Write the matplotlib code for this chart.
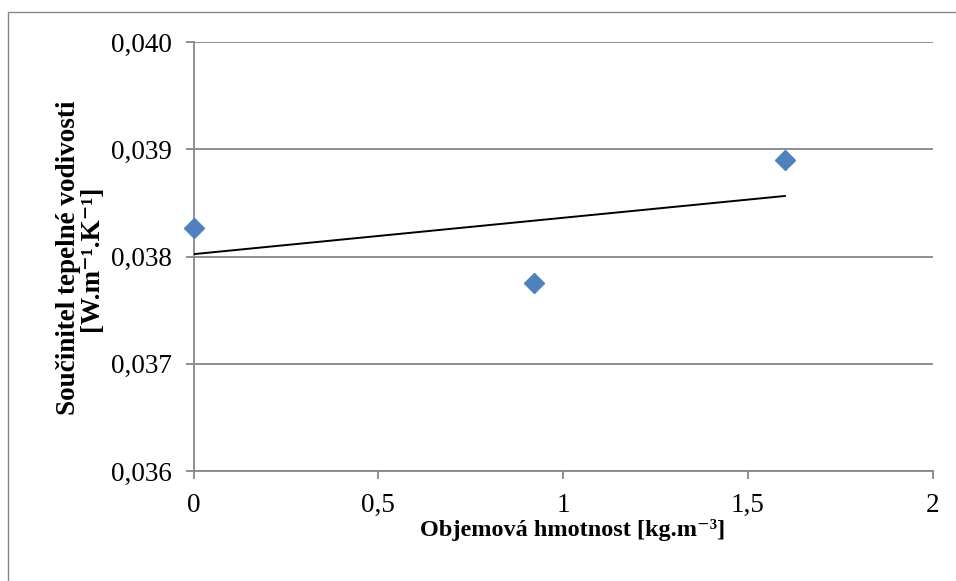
import numpy as np
import matplotlib
matplotlib.use("Agg")
import matplotlib.pyplot as plt
from matplotlib.ticker import FuncFormatter
from matplotlib.patches import Rectangle

# measured values
density = [0.0, 0.92, 1.6]
conductivity = [0.03827, 0.03775, 0.03890]

x_ticks = [0, 0.5, 1, 1.5, 2]
y_ticks = [0.036, 0.037, 0.038, 0.039, 0.040]

plt.rcParams['font.family'] = ['Liberation Serif', 'DejaVu Serif']

grey = '#878787'
W, H = 956, 581

fig = plt.figure(figsize=(W / 100, H / 100), dpi=100)
ax = fig.add_axes([193.5 / W, 1 - 471 / H, (932.7 - 193.5) / W, (471 - 42) / H])

# outer chart border (only top/left visible in the crop)
fig.patches.append(Rectangle((8 / W, -0.05), 1.2, 1 - 12 / H + 0.05,
                             transform=fig.transFigure, fill=False,
                             edgecolor=grey, linewidth=1.0))

# linear trend line
k, q = np.polyfit(density, conductivity, 1)
xt = np.array([min(density), max(density)])
ax.plot(xt, k * xt + q, color='black', linewidth=1.4, zorder=3)

ax.plot(density, conductivity, linestyle='none', marker='D', markersize=10,
        color='#4F81BD', markeredgecolor='#4F81BD', zorder=4, clip_on=False)

ax.set_xlim(0, 2)
ax.set_ylim(0.036, 0.040)
ax.set_xticks(x_ticks)
ax.set_yticks(y_ticks)

ax.xaxis.set_major_formatter(FuncFormatter(lambda v, p: ('%g' % v).replace('.', ',')))
ax.yaxis.set_major_formatter(FuncFormatter(lambda v, p: ('%.3f' % v).replace('.', ',')))

ax.grid(axis='y', color=grey, linewidth=1.3)
ax.set_axisbelow(True)
for s in ['top', 'right']:
    ax.spines[s].set_visible(False)
for s in ['left', 'bottom']:
    ax.spines[s].set_color(grey)
    ax.spines[s].set_linewidth(1.3)

ax.tick_params(axis='both', colors=grey, labelcolor='black', labelsize=19.5,
               length=6, width=1.3, direction='out')
ax.tick_params(axis='x', pad=10)
ax.tick_params(axis='y', pad=9.5)

# axis titles
fig.text(573 / W, 1 - 536 / H, 'Objemová hmotnost [kg.m\u207b\u00b3]',
         fontsize=17.5, fontweight='bold', ha='center', va='baseline')
fig.text(75 / W, 1 - 258 / H, 'Součinitel tepelné vodivosti',
         fontsize=19.5, fontweight='bold', rotation=90, rotation_mode='anchor',
         ha='center', va='baseline')
fig.text(98 / W, 1 - 258 / H, '[W.m\u207b\u00b9.K\u207b\u00b9]',
         fontsize=19.5, fontweight='bold', rotation=90, rotation_mode='anchor',
         ha='center', va='baseline')

fig.savefig('out.png', dpi=100)
